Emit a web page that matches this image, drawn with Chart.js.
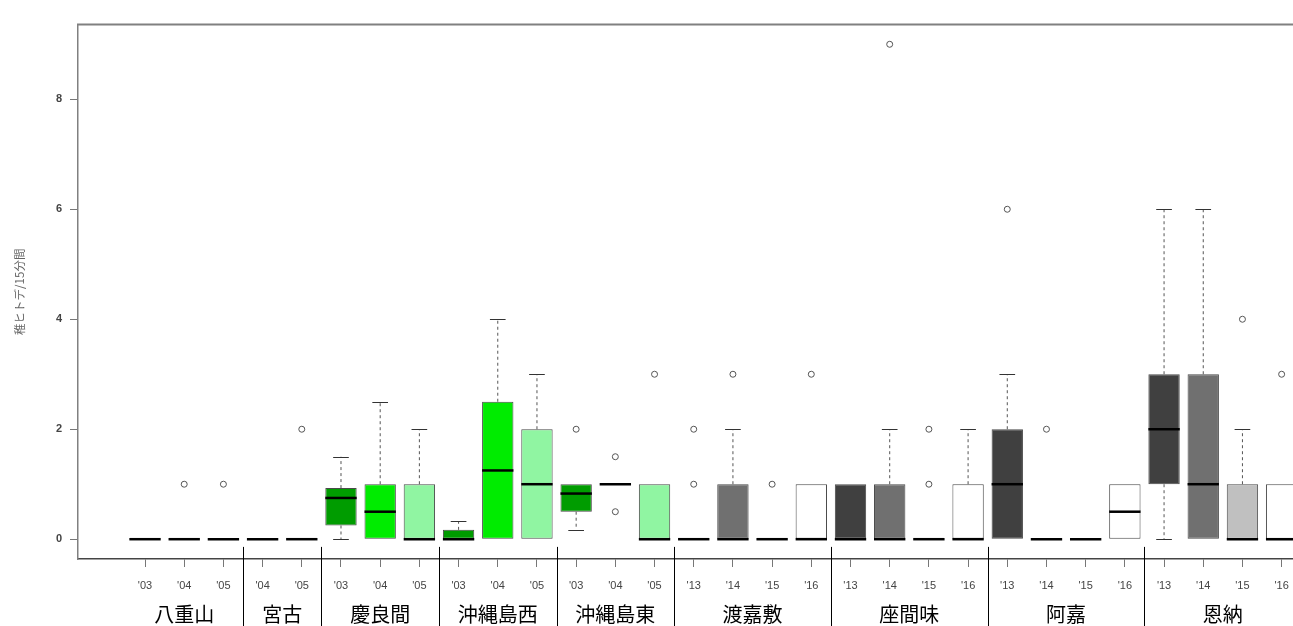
<!DOCTYPE html>
<html><head><meta charset="utf-8">
<script src="https://cdn.jsdelivr.net/npm/chart.js@4.4.1/dist/chart.umd.min.js"></script>
<style>html,body{margin:0;padding:0;background:#fff;overflow:hidden}</style>
</head><body>
<canvas id="c" width="1293" height="626" style="width:1293px;height:626px;display:block"></canvas>
<script>
// ---- data ----
const yearLabels = ["'03","'04","'05","'04","'05","'03","'04","'05","'03","'04","'05","'03","'04","'05",
  "'13","'14","'15","'16","'13","'14","'15","'16","'13","'14","'15","'16","'13","'14","'15","'16"];
const groupNames = ["八重山","宮古","慶良間","沖縄島西","沖縄島東","渡嘉敷","座間味","阿嘉","恩納"];
const groupSizes = [3,2,3,3,3,4,4,4,4];
const q1     = [0,0,0,0,0,0.25,0,0,0,0,0,0.5,1,0,0,0,0,0,0,0,0,0,0,0,0,0,1,0,0,0];
const median = [0,0,0,0,0,0.75,0.5,0,0,1.25,1,0.83,1,0,0,0,0,0,0,0,0,0,1,0,0,0.5,2,1,0,0];
const q3     = [0,0,0,0,0,0.93,1,1,0.17,2.5,2,1,1,1,0,1,0,1,1,1,0,1,2,0,0,1,3,3,1,1];
const whiskerLow  = [0,0,0,0,0,0,0,0,0,0,0,0.17,1,0,0,0,0,0,0,0,0,0,0,0,0,0,0,0,0,0];
const whiskerHigh = [0,0,0,0,0,1.5,2.5,2,0.33,4,3,1,1,1,0,2,0,1,1,2,0,2,3,0,0,1,6,6,2,1];
const outlierPos = [2,3,5,12,13,13,14,15,15,16,17,18,20,21,21,23,24,29,30];
const outlierVal = [1,1,2,2,1.5,0.5,3,1,2,3,1,3,9,1,2,6,2,4,3];
const yTicks = [0,2,4,6,8];
const yTitle = "稚ヒトデ/15分間";

// ---- styles ----
const DG = "#009c00", BG = "#00ec00", LG = "#90f5a2";
const boxColors = [DG,BG,LG, BG,LG, DG,BG,LG, DG,BG,LG, DG,BG,LG,
  "#404040","#707070","#c0c0c0","#ffffff",
  "#404040","#707070","#c0c0c0","#ffffff",
  "#404040","#707070","#c0c0c0","#ffffff",
  "#404040","#707070","#c0c0c0","#ffffff"];

// ---- derived ----
const positions = yearLabels.map((_, i) => i + 1);
const groupCenters = [], groupBounds = [];
let acc = 0;
groupSizes.forEach((n, g) => {
  groupCenters.push(acc + (n + 1) / 2);
  acc += n;
  if (g < groupSizes.length - 1) groupBounds.push(acc + 0.5);
});
const X_MIN = -0.71, X_MAX = 30.29;
const SEP_TOP = -0.14;

const boxExtras = {
  id: 'boxExtras',
  afterDatasetsDraw(chart) {
    const {ctx} = chart;
    const x = chart.scales.x, y = chart.scales.y;
    const meta = chart.getDatasetMeta(0);
    ctx.save();
    positions.forEach((p, i) => {
      const w = meta.data[i].width;
      const cx = x.getPixelForValue(p);
      const whisker = (from, to) => {
        ctx.strokeStyle = '#555'; ctx.lineWidth = 1;
        ctx.setLineDash([3, 3]);
        ctx.beginPath();
        ctx.moveTo(cx, y.getPixelForValue(from));
        ctx.lineTo(cx, y.getPixelForValue(to));
        ctx.stroke();
        ctx.setLineDash([]);
        ctx.strokeStyle = '#333';
        const yy = Math.round(y.getPixelForValue(to)) + 0.5;
        ctx.beginPath();
        ctx.moveTo(cx - w / 4, yy);
        ctx.lineTo(cx + w / 4, yy);
        ctx.stroke();
      };
      if (whiskerHigh[i] > q3[i]) whisker(q3[i], whiskerHigh[i]);
      if (whiskerLow[i] < q1[i]) whisker(q1[i], whiskerLow[i]);
      ctx.strokeStyle = '#000'; ctx.lineWidth = 2.5;
      const my = y.getPixelForValue(median[i]);
      ctx.beginPath();
      ctx.moveTo(cx - w / 2, my);
      ctx.lineTo(cx + w / 2, my);
      ctx.stroke();
    });
    ctx.restore();
  },
  afterDraw(chart) {
    const {ctx, chartArea} = chart;
    const x = chart.scales.x, y = chart.scales.y;
    ctx.save();
    ctx.strokeStyle = '#000'; ctx.lineWidth = 1;
    const yTop = y.getPixelForValue(SEP_TOP);
    groupBounds.forEach(b => {
      const px = Math.round(x.getPixelForValue(b)) + 0.5;
      ctx.beginPath(); ctx.moveTo(px, yTop); ctx.lineTo(px, chart.height); ctx.stroke();
    });
    ctx.strokeStyle = '#808080'; ctx.lineWidth = 2;
    ctx.beginPath();
    ctx.moveTo(chartArea.left - 1, chartArea.top);
    ctx.lineTo(chartArea.right, chartArea.top);
    ctx.stroke();
    ctx.restore();
  }
};

const noSidePad = s => { s.paddingLeft = 0; s.paddingRight = 0; };

new Chart(document.getElementById('c'), {
  type: 'bar',
  data: {
    datasets: [
      {
        type: 'bar',
        data: positions.map((p, i) => ({x: p, y: [q1[i], q3[i]]})),
        backgroundColor: boxColors,
        borderColor: '#4a4a4a',
        borderWidth: 1,
        borderSkipped: false,
        barPercentage: 0.8,
        categoryPercentage: 1,
        xAxisID: 'x', yAxisID: 'y'
      },
      {
        type: 'scatter',
        data: outlierPos.map((p, i) => ({x: p, y: outlierVal[i]})),
        pointRadius: 3,
        pointBackgroundColor: '#fff',
        pointBorderColor: '#555',
        pointBorderWidth: 1,
        showLine: false,
        xAxisID: 'x', yAxisID: 'y'
      }
    ]
  },
  options: {
    responsive: false,
    animation: false,
    devicePixelRatio: 1,
    events: [],
    layout: { autoPadding: false, padding: { top: 24.5, left: 0, right: 0, bottom: 0 } },
    plugins: { legend: { display: false }, tooltip: { enabled: false } },
    scales: {
      x: {
        type: 'linear', position: 'bottom', weight: 0,
        min: X_MIN, max: X_MAX, offset: false,
        afterBuildTicks: s => { s.ticks = positions.map(v => ({value: v})); },
        afterFit: s => { s.height = 33; noSidePad(s); },
        grid: { drawOnChartArea: false, drawTicks: true, tickLength: 8, color: '#777', offset: false },
        border: { display: true, color: '#444', width: 1.5 },
        ticks: {
          autoSkip: false, maxRotation: 0, minRotation: 0, padding: 12, color: '#444',
          font: { family: "'Liberation Sans', Arial, sans-serif", size: 11 },
          callback: (v, i) => yearLabels[i]
        }
      },
      xg: {
        type: 'linear', axis: 'x', position: 'bottom', weight: 1,
        min: X_MIN, max: X_MAX, offset: false,
        afterBuildTicks: s => { s.ticks = groupCenters.map(v => ({value: v})); },
        afterFit: s => { s.height = 34; noSidePad(s); },
        grid: { display: false, offset: false },
        border: { display: false },
        ticks: {
          autoSkip: false, maxRotation: 0, minRotation: 0, padding: 2, color: '#000',
          font: { family: "'Noto Sans CJK JP', sans-serif", size: 20 },
          callback: (v, i) => groupNames[i]
        }
      },
      y: {
        type: 'linear', position: 'left',
        min: -0.36, max: 9.36,
        afterBuildTicks: s => { s.ticks = yTicks.map(v => ({value: v})); },
        afterFit: s => { s.width = 78; },
        grid: { drawOnChartArea: false, drawTicks: true, tickLength: 8, color: '#777' },
        border: { display: true, color: '#808080', width: 1.5 },
        ticks: {
          padding: 8, color: '#444',
          font: { family: "'Liberation Sans', Arial, sans-serif", size: 11, weight: 'bold' }
        },
        title: {
          display: true, text: yTitle, color: '#666',
          font: { family: "'Noto Sans CJK JP', sans-serif", size: 11.5 },
          padding: { top: 13, bottom: 0 }
        }
      }
    }
  },
  plugins: [boxExtras]
});
</script>
</body></html>
